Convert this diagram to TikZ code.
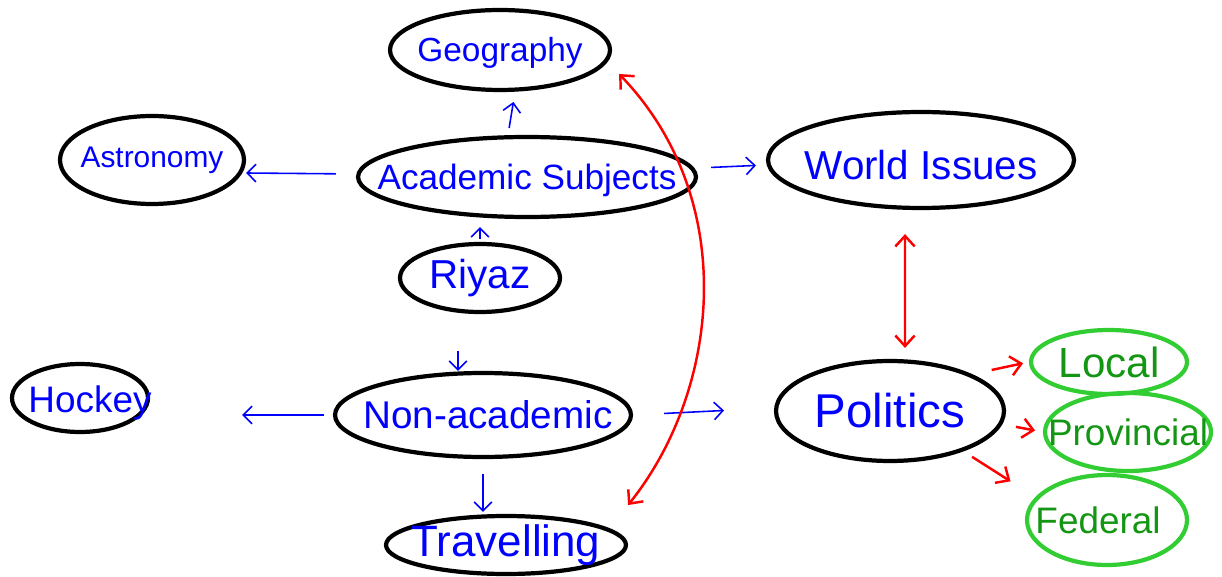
\documentclass[tikz,border=0pt]{standalone}
\usepackage{fontspec}
\setmainfont{Liberation Sans}
\usetikzlibrary{shapes.geometric, arrows.meta}
\definecolor{leafline}{RGB}{50,205,50}
\definecolor{leafword}{RGB}{20,150,20}

\begin{document}
\begin{tikzpicture}[x=0.02cm, y=-0.02cm,
  bubble/.style={ellipse, draw, line width=2.4pt, inner sep=0pt},
  leaf/.style={bubble, draw=leafline},
  word/.style={font=\fontsize{#1}{#1}\selectfont, text=blue},
  leafword/.style={font=\fontsize{#1}{#1}\selectfont, text=leafword},
  arr/.style={-{Straight Barb[length=5pt,width=10pt]}, blue, line width=0.9pt},
  redarr/.style={-{Straight Barb[length=6pt,width=11pt]}, red, line width=1.4pt}]
\useasboundingbox (0,0) rectangle (1222,577);

% bubbles
\node[bubble, minimum width=4.4cm, minimum height=1.6cm, label={[word=19, yshift=-0.06cm]center:Geography}] (geo) at (500,50) {};
\node[bubble, minimum width=3.68cm, minimum height=1.76cm, label={[word=17]center:Astronomy}] (astro) at (152,160) {};
\node[bubble, minimum width=6.76cm, minimum height=1.6cm, label={[word=20, yshift=-0.06cm]center:Academic Subjects}] (acad) at (527,177) {};
\node[bubble, minimum width=6.12cm, minimum height=1.92cm, label={[word=23, yshift=-0.1cm]center:World Issues}] (world) at (921,160) {};
\node[bubble, minimum width=3.2cm, minimum height=1.36cm, label={[word=23]center:Riyaz}] (riyaz) at (480,278) {};
\node[bubble, minimum width=2.72cm, minimum height=1.36cm, label={[word=21, xshift=0.2cm, yshift=-0.1cm]center:Hockey}] (hockey) at (80,398) {};
\node[bubble, minimum width=5.92cm, minimum height=1.68cm, label={[word=22, xshift=0.1cm]center:Non-academic}] (nonacad) at (483,415) {};
\node[bubble, minimum width=4.56cm, minimum height=2cm, label={[word=27]center:Politics}] (pol) at (890,411) {};
\node[bubble, minimum width=4.8cm, minimum height=1.16cm, label={[word=25]center:Travelling}] (trav) at (506,545) {};
\node[leaf, minimum width=3.12cm, minimum height=1.28cm, label={[leafword=24]center:Local}] (local) at (1109,362) {};
\node[leaf, minimum width=3.32cm, minimum height=1.56cm, label={[leafword=21]center:Provincial}] (prov) at (1128,432) {};
\node[leaf, minimum width=3.2cm, minimum height=1.8cm, label={[leafword=21, xshift=-0.18cm]center:Federal}] (fed) at (1107,520) {};

% blue links
\draw[arr, shorten <=0.14cm, shorten >=0.2cm] ([xshift=-0.38cm]acad.north) -- ([xshift=0.3cm]geo.south);
\draw[arr, shorten <=0.4cm] ([yshift=0.06cm]acad.west) -- ([yshift=-0.26cm]astro.east);
\draw[arr, shorten <=0.26cm, shorten >=0.2cm] ([yshift=0.18cm]acad.east) -- ([yshift=-0.1cm]world.west);
\draw[arr, shorten <=0.06cm, shorten >=0.16cm] (riyaz.north) -- (riyaz.north |- acad.south);
\draw[arr, shorten <=0.74cm] ([xshift=-0.44cm]riyaz.south) -- ([xshift=-0.5cm]nonacad.north);
\draw[arr, shorten <=0.18cm, shorten >=1.84cm] (nonacad.west) -- (nonacad.west -| hockey.east);
\draw[arr, shorten <=0.62cm, shorten >=1.0cm] (nonacad.east) -- ([yshift=0.06cm]pol.west);
\draw[arr, shorten <=0.3cm, shorten >=0.04cm] (nonacad.south) -- (nonacad.south |- trav.north);

% red links
\draw[redarr, {Straight Barb[length=6pt,width=11pt]}-{Straight Barb[length=6pt,width=11pt]}, shorten <=0.48cm, shorten >=0.22cm] ([xshift=-0.32cm]world.south) -- ([xshift=0.3cm]pol.north);
\draw[redarr, {Straight Barb[length=6pt,width=11pt]}-{Straight Barb[length=6pt,width=11pt]}] ([shift={(0.14cm,-0.48cm)}]geo.east) .. controls (740,200) and (720,390) .. ([yshift=0.8cm]trav.east);
\draw[redarr, shorten <=0.4cm, shorten >=0.12cm] (pol.north east) -- (local.west);
\draw[redarr, shorten <=0.2cm, shorten >=0.16cm] ([yshift=-0.28cm]pol.east) -- (prov.west);
\draw[redarr, shorten >=0.2cm] ([yshift=-0.18cm]pol.south east) -- ([xshift=-0.6cm]fed.north west);

\end{tikzpicture}
\end{document}
